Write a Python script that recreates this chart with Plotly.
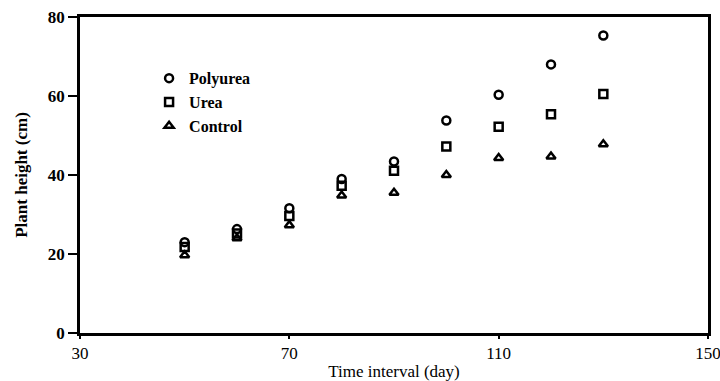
import plotly.graph_objects as go

days = [50, 60, 70, 80, 90, 100, 110, 120, 130]
polyurea = [23.0, 26.3, 31.6, 39.0, 43.4, 53.8, 60.3, 68.0, 75.3]
urea = [21.8, 25.2, 29.6, 37.3, 41.1, 47.2, 52.2, 55.4, 60.5]
control = [19.7, 24.0, 27.3, 34.8, 35.5, 40.0, 44.3, 44.7, 47.8]

x_ticks = [30, 70, 110, 150]
y_ticks = [0, 20, 40, 60, 80]

series = [("Polyurea", polyurea, "circle-open"),
          ("Urea", urea, "square-open"),
          ("Control", control, "triangle-up-open")]

fig = go.Figure()
for name, vals, sym in series:
    fig.add_trace(go.Scatter(
        x=days, y=vals, mode="markers", name=name,
        marker=dict(symbol=sym, size=8, color="black",
                    line=dict(width=2.5, color="black")),
    ))

ff = "Liberation Serif"
fig.update_layout(
    width=720, height=381,
    margin=dict(l=80, r=12, t=17, b=48),
    paper_bgcolor="white", plot_bgcolor="white",
    font=dict(family=ff, color="#000000", size=15),
    showlegend=True,
    legend=dict(x=0.11, y=0.86, xanchor="left", yanchor="top",
                bgcolor="rgba(0,0,0,0)", borderwidth=0,
                font=dict(size=16, family=ff, color="#000000", weight="bold"),
                itemwidth=30, tracegroupgap=0),
)
fig.update_xaxes(
    range=[30, 150], tickvals=x_ticks, automargin=False,
    ticklabeloverflow="allow",
    showgrid=False, zeroline=False,
    showline=True, linecolor="black", linewidth=2.5, mirror=True,
    ticks="outside", ticklen=3, tickwidth=1.5, tickcolor="black",
    tickfont=dict(size=17, family=ff, color="#000000"),
    title=dict(text="Time interval (day)", standoff=4,
               font=dict(size=17, family=ff, color="#000000")),
)
fig.update_yaxes(
    range=[0, 80], tickvals=y_ticks, automargin=False,
    ticklabeloverflow="allow",
    showgrid=False, zeroline=False,
    showline=True, linecolor="black", linewidth=2.5, mirror=True,
    ticks="outside", ticklen=9, tickwidth=1.5, tickcolor="black",
    tickfont=dict(size=17, family=ff, color="#000000", weight="bold"),
    title=dict(text="Plant height (cm)", standoff=16,
               font=dict(size=17, family=ff, color="#000000", weight="bold")),
)

fig.write_html("out.html")
